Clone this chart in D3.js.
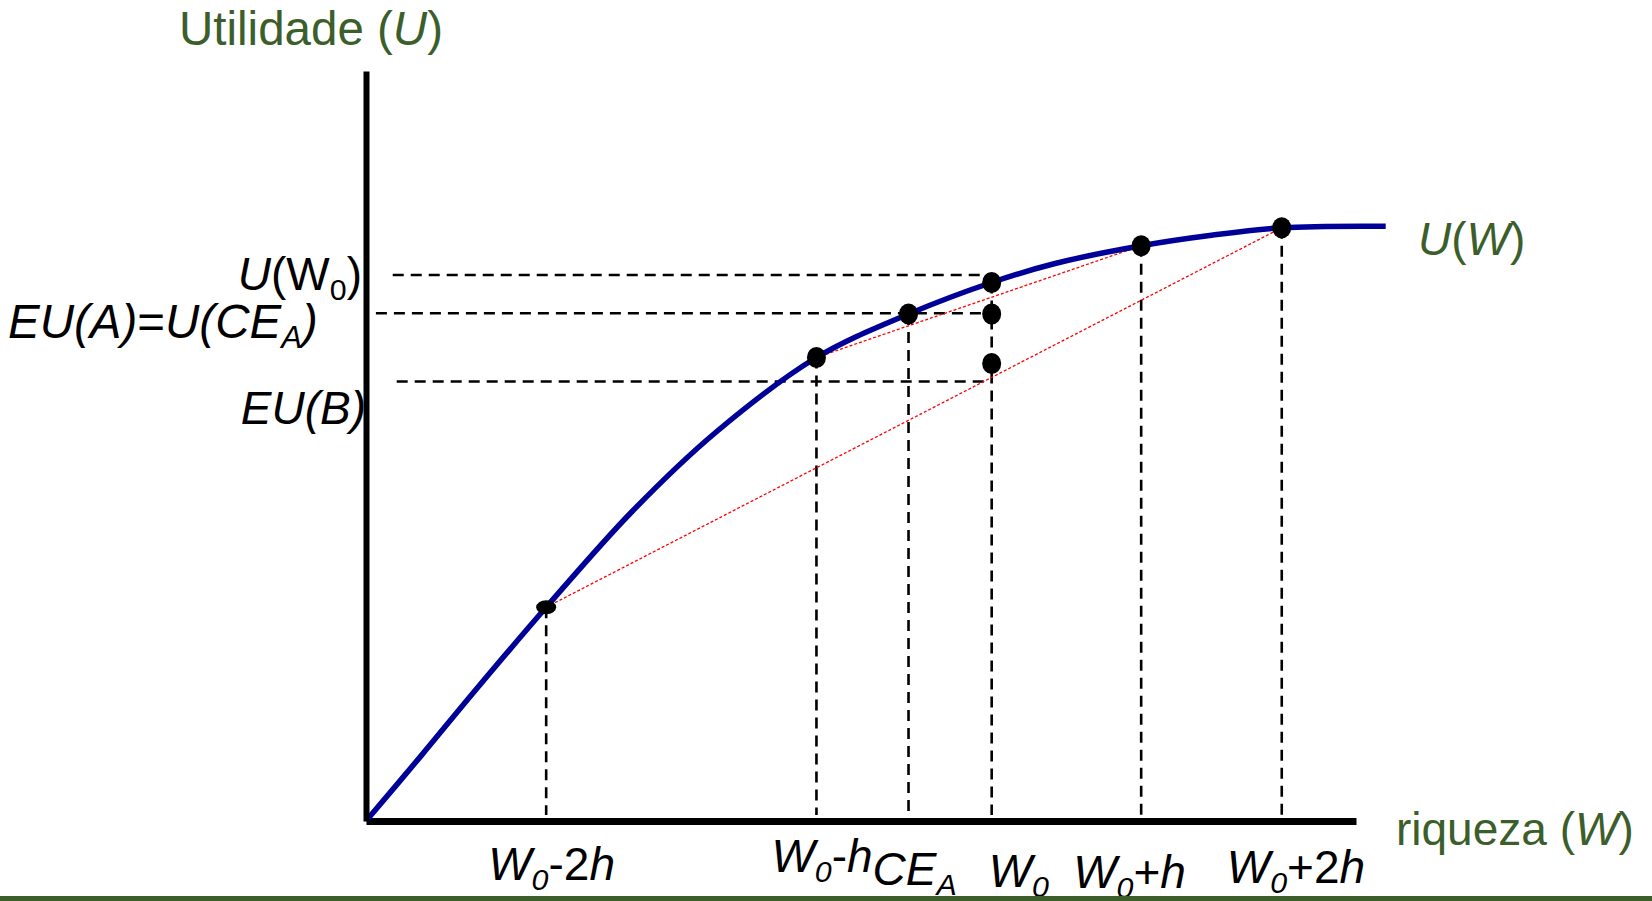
<!DOCTYPE html>
<html><head><meta charset="utf-8">
<script src="https://cdn.jsdelivr.net/npm/d3@7"></script>
<style>body{margin:0;background:#fff}svg{display:block}text{font-family:"Liberation Sans",Arial,sans-serif}</style>
</head><body><svg id="c" width="1652" height="901"></svg>
<script>
// ---- data ----
const curveW = [0,5.6,10.9,18.2,26.9,35.4,45.5,54.8,63.2,69.5,78.3,85.4,92.5,103];
const curveU = [0,8.75,17.2,28.5,41.3,51.9,61.8,67.6,71.8,74.3,76.7,78.1,79.1,79.3];
const tickW = [18.2,45.5,54.8,63.2,78.3,92.5];
const tickU = [28.5,61.8,67.6,71.8,76.7,79.1];
const extraDotW = [63.2,63.2];
const extraDotU = [67.6,61.0];
const levelU = [72.8,67.7,58.6];
const levelStartW = [2.7,1.0,3.1];
const levelEndW = [63.2,63.2,63.2];
const chordFrom = [1,0];
const chordTo = [4,5];
// label texts: [text, italic, subscript]
const tickLabels = [
  [["W",1],["0",1,1],["-2",0],["h",1]],
  [["W",1],["0",1,1],["-",0],["h",1]],
  [["CE",1],["A",1,1]],
  [["W",1],["0",1,1]],
  [["W",1],["0",1,1],["+",0],["h",1]],
  [["W",1],["0",1,1],["+2",0],["h",1]]
];
const levelLabels = [
  [["U",1],["(W",0],["0",0,1],[")",0]],
  [["EU(A)",1],["=",0],["U(CE",1],["A",1,1],[")",1]],
  [["EU(B)",1]]
];
const titleY = [["Utilidade (",0],["U",1],[")",0]];
const titleX = [["riqueza (",0],["W",1],[")",0]];
const curveLabel = [["U",1],["(",0],["W",1],[")",0]];

// ---- layout ----
const svg = d3.select("#c");
const x = d3.scaleLinear().domain([0,100]).range([366,1356]);
const y = d3.scaleLinear().domain([0,100]).range([821,71]);
const green = "#3b5e2b", blue = "#000099";
const FS = 46;

function rich(sel, parts, size){
  let shifted = false;
  parts.forEach(p=>{
    const t = sel.append("tspan").text(p[0]).attr("font-style", p[1]?"italic":"normal");
    if(p[2]){ t.attr("font-size", size*0.66).attr("dy", size*0.22); shifted = true; }
    else { t.attr("font-size", size); if(shifted){ t.attr("dy", -size*0.22); shifted=false; } }
  });
  return sel;
}

// dashed horizontal level lines
levelU.forEach((u,i)=>{
  svg.append("line").attr("x1",x(levelStartW[i])).attr("x2",x(levelEndW[i]))
    .attr("y1",y(u)).attr("y2",y(u))
    .attr("stroke","#000").attr("stroke-width",2.6).attr("stroke-dasharray","11,7");
});
// dashed vertical lines
tickW.forEach((w,i)=>{
  svg.append("line").attr("x1",x(w)).attr("x2",x(w)).attr("y1",y(tickU[i])).attr("y2",y(0)-6)
    .attr("stroke","#000").attr("stroke-width",2.6).attr("stroke-dasharray","11,7");
});
// red chords
chordFrom.forEach((a,i)=>{
  const b = chordTo[i];
  svg.append("line").attr("x1",x(tickW[a])).attr("y1",y(tickU[a])).attr("x2",x(tickW[b])).attr("y2",y(tickU[b]))
    .attr("stroke","#ff0000").attr("stroke-width",1.3).attr("stroke-dasharray","3,2");
});
// axes
const xa = svg.append("g").attr("transform",`translate(0,${y(0)})`).call(d3.axisBottom(x).tickValues([]).tickSizeOuter(0));
xa.select(".domain").attr("stroke","#000").attr("stroke-width",7);
const ya = svg.append("g").attr("transform",`translate(${x(0)},0)`).call(d3.axisLeft(y).tickValues([]).tickSizeOuter(0));
ya.select(".domain").attr("stroke","#000").attr("stroke-width",6);

// curve
const pts = curveW.map((w,i)=>[w,curveU[i]]);
svg.append("path").datum(pts)
  .attr("d", d3.line().x(d=>x(d[0])).y(d=>y(d[1])).curve(d3.curveCatmullRom.alpha(0.5)))
  .attr("fill","none").attr("stroke",blue).attr("stroke-width",5.5);

// dots
tickW.forEach((w,i)=>{
  svg.append("ellipse").attr("cx",x(w)).attr("cy",y(tickU[i]))
    .attr("rx", i===0?10:9.5).attr("ry", i===0?7:10.5).attr("fill","#000");
});
extraDotW.forEach((w,i)=>{
  svg.append("ellipse").attr("cx",x(w)).attr("cy",y(extraDotU[i])).attr("rx",9.5).attr("ry",10.5).attr("fill","#000");
});

// labels
const tickDx = [-58,-45,-36,-3,-68,-55];
const tickBase = [880,872,885,887,888,883];
tickLabels.forEach((parts,i)=>{
  rich(svg.append("text").attr("x",x(tickW[i])+tickDx[i]).attr("y",tickBase[i]).attr("fill","#000"), parts, FS);
});
const levelX = [362,8,366];
const levelAnchor = ["end","start","end"];
const levelBase = [290,338,424];
const levelSize = [FS,47.5,FS];
levelLabels.forEach((parts,i)=>{
  rich(svg.append("text").attr("x",levelX[i]).attr("y",levelBase[i]).attr("text-anchor",levelAnchor[i]).attr("fill","#000"), parts, levelSize[i]);
});
rich(svg.append("text").attr("x",179).attr("y",45).attr("fill",green), titleY, 47.5);
rich(svg.append("text").attr("x",1396).attr("y",845).attr("fill",green), titleX, FS);
rich(svg.append("text").attr("x",1418).attr("y",255).attr("fill",green), curveLabel, FS);

// bottom rule
svg.append("rect").attr("x",0).attr("y",896).attr("width",1652).attr("height",5).attr("fill",green);
// redraw axis over level labels
ya.raise();
</script></body></html>
